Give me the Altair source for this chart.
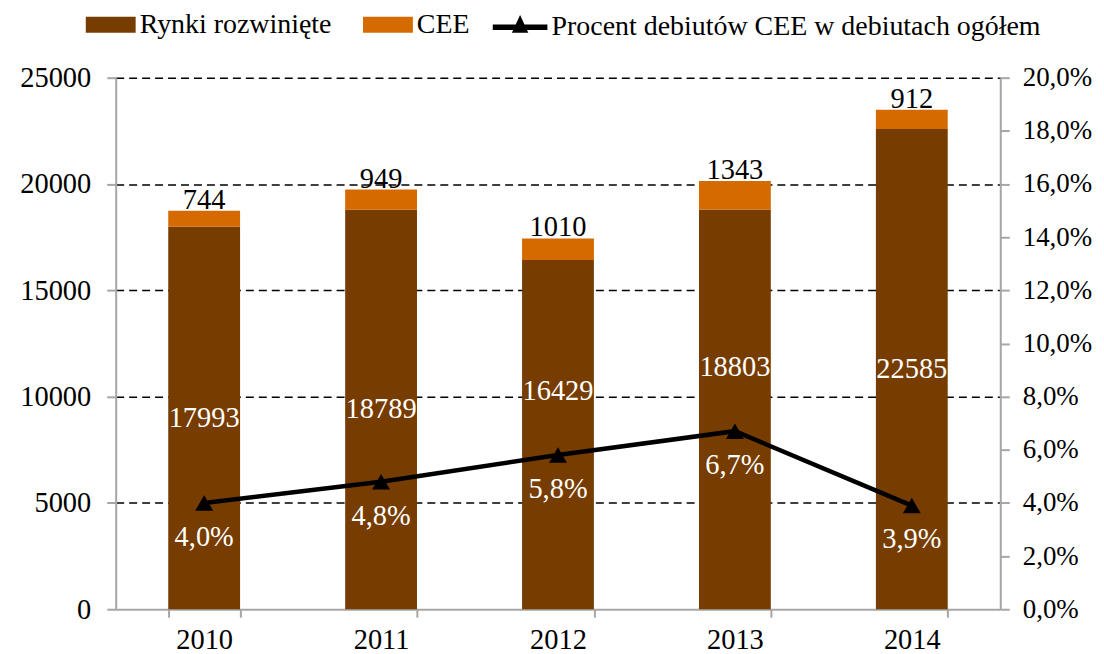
import altair as alt
import pandas as pd

years = ["2010", "2011", "2012", "2013", "2014"]
developed = [17993, 18789, 16429, 18803, 22585]
cee = [744, 949, 1010, 1343, 912]
pct = [4.0, 4.8, 5.8, 6.7, 3.9]
series_names = ["Rynki rozwinięte", "CEE"]
line_name = "Procent debiutów CEE w debiutach ogółem"
left_ticks = [0, 5000, 10000, 15000, 20000, 25000]
right_ticks = [0, 0.02, 0.04, 0.06, 0.08, 0.10, 0.12, 0.14, 0.16, 0.18, 0.20]

BROWN = "#763C00"
ORANGE = "#D46A00"
FONT = "Liberation Serif"
FS = 28.5
LFS = 28
LEFT_MAX = 25000
RIGHT_MAX = 0.2

long_df = pd.DataFrame({
    "year": years * 2,
    "series": [series_names[0]] * 5 + [series_names[1]] * 5,
    "value": developed + cee,
    "ord": [0] * 5 + [1] * 5,
})
wide_df = pd.DataFrame({
    "year": years,
    "dev": developed,
    "cee": cee,
    "pct": [p / 100 for p in pct],
    "lname": [line_name] * 5,
})

x = alt.X(
    "year:N",
    scale=alt.Scale(paddingInner=0.594, paddingOuter=0.297),
    axis=alt.Axis(title=None, labelAngle=0, tickBand="extent", tickSize=8,
                  labelPadding=8, grid=False),
)

yscale = alt.Scale(domain=[0, LEFT_MAX], nice=False)
yaxis = alt.Axis(title=None, values=left_ticks, format="d", grid=True, tickSize=9,
                 labelPadding=16, gridDash=[8, 5], gridColor="black",
                 gridWidth=1.5,
                 gridOpacity={"condition": {"test": "datum.value === 0", "value": 0}, "value": 1})

bars = alt.Chart(long_df).mark_bar().encode(
    x=x,
    y=alt.Y("value:Q", stack="zero", scale=yscale, axis=yaxis),
    color=alt.Color("series:N",
                    scale=alt.Scale(domain=series_names, range=[BROWN, ORANGE]),
                    legend=alt.Legend(orient="none", legendX=-30, legendY=-78,
                                      direction="horizontal", columns=2, title=None,
                                      symbolType="M-1,-0.32H1V0.32H-1Z", symbolSize=2500,
                                      symbolStrokeWidth=0, columnPadding=31,
                                      labelOffset=4, labelLimit=0)),
    order=alt.Order("ord:Q"),
)

# label in the middle of the segment, pushed above the line where they would collide
dev_text = alt.Chart(wide_df).transform_calculate(
    mid=f"max(datum.dev / 2, datum.pct / {RIGHT_MAX} * {LEFT_MAX} + 3000)"
).mark_text(font=FONT, fontSize=FS, color="white", baseline="middle").encode(
    x=x,
    y=alt.Y("mid:Q", scale=yscale, axis=yaxis),
    text=alt.Text("dev:Q", format="d"),
)

cee_text = alt.Chart(wide_df).transform_calculate(
    total="datum.dev + datum.cee"
).mark_text(font=FONT, fontSize=FS, color="black", baseline="alphabetic", dy=-2).encode(
    x=x,
    y=alt.Y("total:Q", scale=yscale, axis=yaxis),
    text=alt.Text("cee:Q", format="d"),
)

pscale = alt.Scale(domain=[0, RIGHT_MAX], nice=False)
paxis = alt.Axis(orient="right", title=None, values=right_ticks, grid=False,
                 tickSize=9, labelPadding=13, labelFontSize=27,
                 labelExpr="replace(format(datum.value, '.1%'), '.', ',')")

line = alt.Chart(wide_df).mark_line(color="black", strokeWidth=4.5).encode(
    x=x,
    y=alt.Y("pct:Q", scale=pscale, axis=paxis),
)

points = alt.Chart(wide_df).mark_point(shape="triangle-up", filled=True, size=320, opacity=1).encode(
    x=x,
    y=alt.Y("pct:Q", scale=pscale, axis=paxis),
    color=alt.Color("lname:N", scale=alt.Scale(domain=[line_name], range=["black"]),
                    legend=alt.Legend(orient="none", legendX=378, legendY=-78, title=None,
                                      symbolType="M-1,-0.1H1V0.1H-1Z M0,-0.45L0.3,0.2H-0.3Z",
                                      symbolSize=3000, symbolOpacity=1, symbolStrokeWidth=0,
                                      labelOffset=4, labelLimit=0)),
)

pct_text = alt.Chart(wide_df).transform_calculate(
    lab="replace(format(datum.pct, '.1%'), '.', ',')"
).mark_text(font=FONT, fontSize=FS, color="white", baseline="middle", dy=34).encode(
    x=x,
    y=alt.Y("pct:Q", scale=pscale, axis=paxis),
    text="lab:N",
)

left = alt.layer(bars, dev_text, cee_text)
right = alt.layer(line, points, pct_text)

chart = alt.layer(left, right).resolve_scale(
    y="independent", color="independent"
).properties(
    width=887, height=533, autosize="none",
    padding={"left": 108, "top": 69, "right": 96, "bottom": 44},
).configure_axis(
    labelFont=FONT, labelFontSize=FS, labelColor="black",
    domainColor="#A6A6A6", domainWidth=2, tickColor="#A6A6A6", tickWidth=2,
).configure_legend(
    labelFont=FONT, labelFontSize=LFS, labelColor="black", padding=0,
).configure_view(stroke=None)

chart.save("out.html", embed_options={"renderer": "svg", "actions": False})
